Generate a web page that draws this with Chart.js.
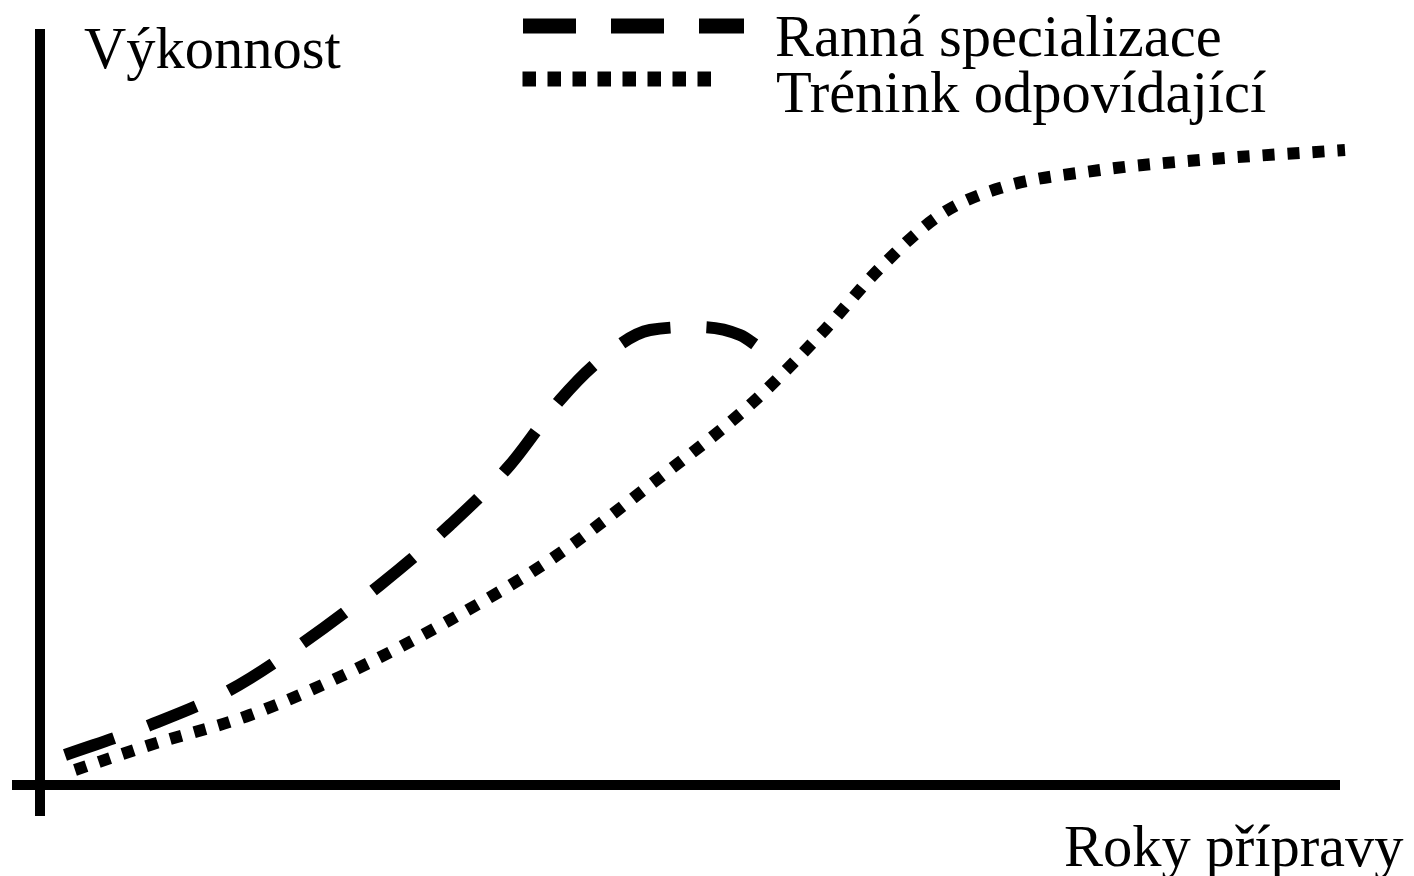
<!DOCTYPE html>
<html>
<head>
<meta charset="utf-8">
<script src="https://cdn.jsdelivr.net/npm/chart.js@4/dist/chart.umd.min.js"></script>
<style>
  html, body { margin: 0; padding: 0; background: #fff; }
  #wrap { width: 1414px; height: 876px; position: relative; }
</style>
</head>
<body>
<div id="wrap"><canvas id="chart"></canvas></div>
<script>
// schematic values (years of preparation vs performance)
const earlyYears = [0.25, 1.1, 1.9, 2.6, 3.4, 4.1, 4.7, 5.2, 5.6, 6.1, 6.6, 7.0, 7.2];
const earlyPerf  = [0.3, 0.6, 0.95, 1.4, 2.0, 2.6, 3.2, 3.85, 4.25, 4.55, 4.58, 4.5, 4.37];
const properYears = [0.35, 1.1, 2.1, 3.1, 4.1, 5.1, 6.1, 7.1, 7.8, 8.4, 9.0, 9.6, 10.6, 11.6, 13.05];
const properPerf  = [0.15, 0.4, 0.7, 1.13, 1.65, 2.25, 3.0, 3.8, 4.5, 5.17, 5.7, 5.97, 6.15, 6.25, 6.35];

const seriesNames = ["Ranná specializace", "Trénink odpovídající"];
const yLabel = "Výkonnost";
const xLabel = "Roky přípravy";

const FONT = '58.5px "Liberation Serif", "Times New Roman", serif';

function pts(xs, ys) {
  return xs.map((x, i) => ({ x: x, y: ys[i] }));
}

// axes, legend and axis captions
const sketchPlugin = {
  id: "sketch",
  afterDatasetsDraw(chart) {
    const ctx = chart.ctx;
    const xs = chart.scales.x, ys = chart.scales.y;
    ctx.save();
    ctx.strokeStyle = "#000";
    ctx.lineCap = "butt";
    ctx.setLineDash([]);
    ctx.lineWidth = 10;
    ctx.beginPath();
    ctx.moveTo(xs.getPixelForValue(0), ys.getPixelForValue(-0.31));
    ctx.lineTo(xs.getPixelForValue(0), ys.getPixelForValue(7.56));
    ctx.moveTo(xs.getPixelForValue(-0.28), ys.getPixelForValue(0));
    ctx.lineTo(xs.getPixelForValue(13.0), ys.getPixelForValue(0));
    ctx.stroke();

    // legend samples
    ctx.lineWidth = 15;
    ctx.setLineDash([53, 35]);
    ctx.beginPath();
    ctx.moveTo(523, 26);
    ctx.lineTo(744, 26);
    ctx.stroke();
    ctx.setLineDash([13.5, 11.5]);
    ctx.beginPath();
    ctx.moveTo(522.5, 79);
    ctx.lineTo(712, 79);
    ctx.stroke();

    ctx.fillStyle = "#000";
    ctx.font = FONT;
    ctx.textBaseline = "alphabetic";
    ctx.textAlign = "left";
    ctx.fillText(seriesNames[0], 775, 56);
    ctx.fillText(seriesNames[1], 776, 112);
    ctx.fillText(yLabel, 84, 68);
    ctx.fillText(xLabel, 1064, 866);
    ctx.restore();
  }
};

new Chart(document.getElementById("chart"), {
  type: "line",
  data: {
    datasets: [
      {
        label: seriesNames[0],
        data: pts(earlyYears, earlyPerf),
        borderColor: "#000",
        borderWidth: 12,
        borderDash: [52, 36],
        borderCapStyle: "butt",
        pointRadius: 0,
        cubicInterpolationMode: "monotone",
        fill: false,
        clip: false
      },
      {
        label: seriesNames[1],
        data: pts(properYears, properPerf),
        borderColor: "#000",
        borderWidth: 12,
        borderDash: [12, 13],
        borderCapStyle: "butt",
        pointRadius: 0,
        cubicInterpolationMode: "monotone",
        fill: false,
        clip: false
      }
    ]
  },
  options: {
    responsive: true,
    maintainAspectRatio: false,
    animation: false,
    layout: { padding: 0 },
    plugins: {
      legend: { display: false },
      tooltip: { enabled: false }
    },
    scales: {
      x: { type: "linear", min: -0.4, max: 13.74, display: false },
      y: { type: "linear", min: -0.91, max: 7.85, display: false }
    }
  },
  plugins: [sketchPlugin]
});
</script>
</body>
</html>
